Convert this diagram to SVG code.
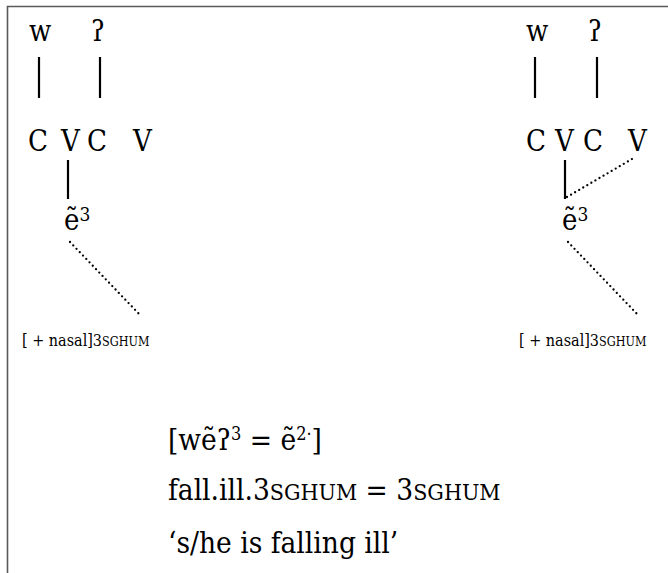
<svg xmlns="http://www.w3.org/2000/svg" width="668" height="573" viewBox="0 0 668 573">
<style>
text{font-family:"DejaVu Serif Condensed","DejaVu Serif","Liberation Serif",serif;font-stretch:condensed;fill:#000}
.t{font-size:29px}
.b{font-size:29.5px}
.s{font-size:16px}
.sc{font-size:0.78em}
.ln{stroke:#000;stroke-width:2.2;fill:none}
.dot{stroke:#000;stroke-width:2.3;fill:none;stroke-linecap:round;stroke-dasharray:0 4.7}
</style>
<rect width="668" height="573" fill="#fff"/>
<path d="M7.5,573 V6.5 H668" fill="none" stroke="#5a5a5a" stroke-width="1.6"/>
<g id="connectors">
<line class="ln" x1="39" y1="57" x2="39" y2="98"/>
<line class="ln" x1="100" y1="57" x2="100" y2="98"/>
<line class="ln" x1="68" y1="160" x2="68" y2="199"/>
<line class="dot" x1="70" y1="242" x2="140" y2="315"/>
<line class="ln" x1="535" y1="57" x2="535" y2="98"/>
<line class="ln" x1="597" y1="57" x2="597" y2="98"/>
<line class="ln" x1="565" y1="160" x2="565" y2="199"/>
<line class="dot" x1="567" y1="197" x2="632" y2="159"/>
<line class="dot" x1="568" y1="242" x2="638" y2="315"/>
</g>
<g id="left-w"><text class="t" x="29" y="41">w</text></g>
<g id="left-glottal"><text class="t" x="91" y="41">ʔ</text></g>
<g id="left-C1"><text class="t" x="28" y="151">C</text></g>
<g id="left-V1"><text class="t" x="61" y="151">V</text></g>
<g id="left-C2"><text class="t" x="87" y="151">C</text></g>
<g id="left-V2"><text class="t" x="133" y="151">V</text></g>
<g id="left-e"><text class="t" x="64" y="230">ẽ<tspan font-size="19" dy="-9">3</tspan></text></g>
<g id="left-label"><text class="s" x="22" y="346">[ + nasal]3<tspan class="sc">SGHUM</tspan></text></g>
<g id="right-w"><text class="t" x="526" y="41">w</text></g>
<g id="right-glottal"><text class="t" x="588" y="41">ʔ</text></g>
<g id="right-C1"><text class="t" x="526" y="151">C</text></g>
<g id="right-V1"><text class="t" x="555" y="151">V</text></g>
<g id="right-C2"><text class="t" x="583" y="151">C</text></g>
<g id="right-V2"><text class="t" x="628" y="151">V</text></g>
<g id="right-e"><text class="t" x="562" y="230">ẽ<tspan font-size="19" dy="-9">3</tspan></text></g>
<g id="right-label"><text class="s" x="519" y="346">[ + nasal]3<tspan class="sc">SGHUM</tspan></text></g>
<g id="gloss">
<text class="b" x="168" y="450">[wẽʔ<tspan font-size="18" dy="-10">3</tspan><tspan dy="10"> = ẽ</tspan><tspan font-size="18" dy="-10">2·</tspan><tspan dy="10">]</tspan></text>
<text class="b" x="168" y="500">fall.ill.3<tspan class="sc">SGHUM</tspan> = 3<tspan class="sc">SGHUM</tspan></text>
<text class="b" x="168" y="553">‘s/he is falling ill’</text>
</g>
</svg>
